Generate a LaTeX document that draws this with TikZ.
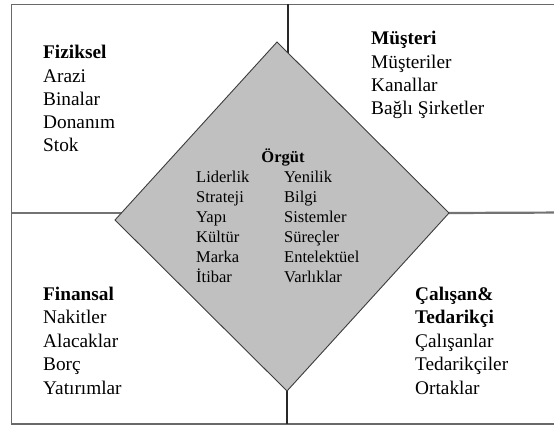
\documentclass[tikz,border=0pt]{standalone}
\usepackage{fontspec}
\setmainfont{Liberation Serif}
\begin{document}
\begin{tikzpicture}[x=1pt,y=-1pt,
  frame/.style={draw={rgb,255:red,105;green,105;blue,105},line width=1.6pt},
  vdiv/.style={draw={rgb,255:red,40;green,40;blue,40},line width=2pt},
  hdiv/.style={draw={rgb,255:red,115;green,115;blue,115},line width=2.2pt},
  outer/.style={font=\fontsize{19.3}{23}\selectfont,inner sep=0pt,anchor=base west},
  head/.style={font=\fontsize{19.3}{23}\selectfont\bfseries,inner sep=0pt,anchor=base west},
  inner/.style={font=\fontsize{16.5}{20}\selectfont,inner sep=0pt,anchor=base west},
  ihead/.style={font=\fontsize{16.5}{20}\selectfont\bfseries,inner sep=0pt,anchor=base},
  diam/.style={fill={rgb,255:red,192;green,192;blue,192},draw={rgb,255:red,60;green,60;blue,60},line width=0.9pt,line join=miter},
]
\useasboundingbox (0,0) rectangle (554,428);
\clip (0,0) rectangle (554,428);
% diamond corners and line ends
\coordinate (dT) at (277,42);
\coordinate (dR) at (449,213);
\coordinate (dB) at (287,391);
\coordinate (dL) at (115,220);
\coordinate (fTL) at (11.5,4.5);
\coordinate (fTR) at (570,4.5);
\coordinate (fBL) at (11.5,424);
\coordinate (fBR) at (570,424);
\coordinate (vTop) at (288,4.5);
\coordinate (vTopEnd) at (288,62);
\coordinate (vBot) at (287,424);
\coordinate (hL) at (11.5,213);
\coordinate (hLEnd) at (130,213);
\coordinate (hR) at (570,212.5);
% frame and dividers
\draw[frame] (fTR) -- (fTL) -- (fBL) -- (fBR);
\draw[hdiv] (hL) -- (hLEnd);
\draw[hdiv] (dR) -- (hR);
\draw[vdiv] (vTop) -- (vTopEnd);
\draw[vdiv] (dB) -- (vBot);
% central diamond
\draw[diam] (dT) -- (dR) -- (dB) -- (dL) -- cycle;
% top left
\node[head] (fz0) at (43,59) {Fiziksel};
\foreach \t [count=\i] in {Arazi,Binalar,Donanım,Stok}
  \node[outer] (fz\i) at (43,{59+23.2*\i}) {\t};
% top right
\node[head] (ms0) at (371,45) {Müşteri};
\foreach \t [count=\i] in {Müşteriler,Kanallar,Bağlı Şirketler}
  \node[outer] (ms\i) at (371,{45+23*\i}) {\t};
% centre
\node[ihead] (org) at (283,162) {Örgüt};
\foreach \t [count=\i] in {Liderlik,Strateji,Yapı,Kültür,Marka,İtibar}
  \node[inner] (ol\i) at (196,{162+20*\i}) {\t};
\foreach \t [count=\i] in {Yenilik,Bilgi,Sistemler,Süreçler,Entelektüel,Varlıklar}
  \node[inner] (or\i) at (284,{162+20*\i}) {\t};
% bottom left
\node[head] (fn0) at (43,300) {Finansal};
\foreach \t [count=\i] in {Nakitler,Alacaklar,Borç,Yatırımlar}
  \node[outer] (fn\i) at (43,{300+23.5*\i}) {\t};
% bottom right
\node[head] (ct0) at (415,300) {Çalışan\&};
\node[head] (ct1) at (415,323.5) {Tedarikçi};
\foreach \t [count=\i from 2] in {Çalışanlar,Tedarikçiler,Ortaklar}
  \node[outer] (ct\i) at (415,{300+23.5*\i}) {\t};
\end{tikzpicture}
\end{document}
